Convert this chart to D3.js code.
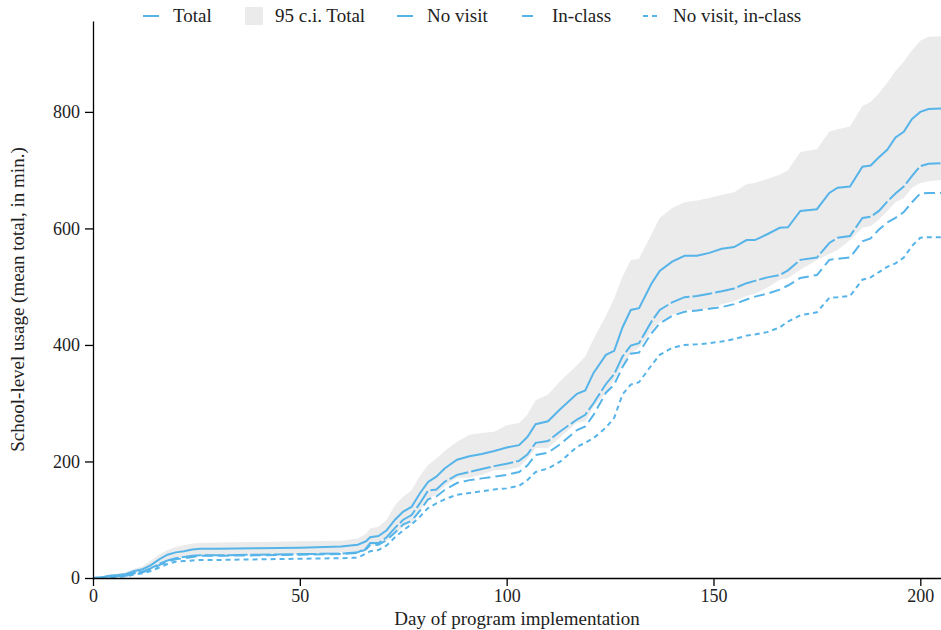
<!DOCTYPE html>
<meta charset="utf-8">
<head>
<script src="https://d3js.org/d3.v7.min.js"></script>
<style>
  body { margin: 0; background: #fff; }
  text { font-family: "Liberation Serif", serif; }
</style>
</head>
<body>
<svg id="chart" width="941" height="630"></svg>

<script>
// day of program implementation
var days = [0,2,4,6,8,10,12,14,16,18, 20,22,24,26,30,40,50,60,64,66,
  67,69,71,73,75,77,79,81,83,85, 88,91,94,97,100,103,105,107,110,113,
  117,119,121,124,126,128,130,132,135,137, 140,143,146,149,152,155,158,160,163,166,
  168,171,175,178,180,183,186,188,190,192, 194,196,198,200,202,205];

// mean total usage, minutes
var total = [0,1,4,5,7,12,15,22,32,40, 44,46,49,50,50,51,52,54,57,63,
  70,72,82,100,114,122,145,165,174,188, 203,209,213,218,224,228,242,264,269,290,
  316,322,352,383,390,430,460,463,505,527, 543,553,553,558,565,568,580,580,590,601,
  602,630,633,661,670,672,706,708,722,735, 756,766,788,800,805,806];

var ciHigh = [0,2,6,7,10,16,20,30,40,48, 53,56,59,60,61,62,63,64,68,76,
  85,88,100,125,140,150,175,194,205,218, 234,246,249,251,262,266,280,305,315,338,
  365,380,410,450,480,517,546,548,590,618, 635,645,648,652,658,662,676,678,685,692,
  700,731,736,766,770,775,810,817,832,850, 870,886,906,922,929,930];

var ciLow = [0,0,2,3,4,8,10,14,24,32, 35,36,39,40,39,40,41,44,46,50,
  55,56,64,75,88,94,115,136,143,158, 172,172,177,185,186,190,204,223,223,242,
  267,268,294,318,340,365,385,395,425,440, 452,460,460,463,470,475,484,488,498,512,
  515,529,546,556,563,580,601,604,615,630, 645,652,670,678,681,683];

var noVisit = [0,1,3,4,5,9,11,17,24,30, 34,36,38,39,39,40,41,42,44,51,
  60,60,70,86,100,108,128,150,152,165, 177,182,187,192,196,201,212,232,235,252,
  272,280,300,333,350,380,399,403,440,460, 473,482,484,488,492,497,506,510,516,520,
  528,546,550,575,584,587,618,620,630,646, 660,672,690,707,711,712];

var inClass = [0,1,2,3,4,8,10,15,22,28, 32,34,36,38,38,39,40,41,43,49,
  56,57,65,78,92,98,115,135,140,151, 163,168,171,174,177,182,193,211,215,230,
  254,260,280,318,332,362,385,387,420,437, 450,457,459,462,465,470,478,483,488,495,
  502,515,520,546,548,550,578,583,598,610, 618,628,645,660,661,661];

var noVisitInClass = [0,0,1,2,3,6,8,12,18,24, 28,29,30,31,31,32,33,34,35,42,
  46,48,56,70,82,92,105,120,128,135, 143,146,149,152,154,158,168,182,188,200,
  225,232,240,258,275,315,332,336,365,383, 395,400,401,403,406,410,416,418,422,430,
  440,451,456,481,482,484,512,516,525,534, 540,550,570,584,585,585];

var xTicks = [0, 50, 100, 150, 200];
var yTicks = [0, 200, 400, 600, 800];

var lineColor = "#56B4E9";
var ciColor = "#ebebeb";

var svg = d3.select("#chart");
var margin = {top: 21, right: 0, bottom: 52, left: 93};
var width = 941 - margin.left - margin.right;
var height = 630 - margin.top - margin.bottom;

var x = d3.scaleLinear().domain([0, 205]).range([0, width]);
var y = d3.scaleLinear().domain([0, 956]).range([height, 0]);

var g = svg.append("g")
  .attr("transform", "translate(" + margin.left + "," + margin.top + ")");

// confidence band
var area = d3.area()
  .x(function(d, i) { return x(days[i]); })
  .y0(function(d, i) { return y(ciLow[i]); })
  .y1(function(d, i) { return y(ciHigh[i]); });

g.append("path")
  .datum(days)
  .attr("fill", ciColor)
  .attr("d", area);

// lines
var series = [
  {values: total, dash: null},
  {values: noVisit, dash: "20,3"},
  {values: inClass, dash: "11,5"},
  {values: noVisitInClass, dash: "5,4"}
];

var line = d3.line()
  .x(function(d, i) { return x(days[i]); })
  .y(function(d) { return y(d); });

series.forEach(function(s) {
  g.append("path")
    .datum(s.values)
    .attr("fill", "none")
    .attr("stroke", lineColor)
    .attr("stroke-width", 2)
    .attr("stroke-dasharray", s.dash)
    .attr("d", line);
});

// axes
var xAxis = g.append("g")
  .attr("transform", "translate(0," + height + ")")
  .call(d3.axisBottom(x).tickValues(xTicks).tickSize(8).tickSizeOuter(0).tickPadding(3));

var yAxis = g.append("g")
  .call(d3.axisLeft(y).tickValues(yTicks).tickSize(8).tickSizeOuter(0).tickPadding(5));

[xAxis, yAxis].forEach(function(a) {
  a.select(".domain").attr("stroke", "#000").attr("stroke-width", 1.3);
  a.selectAll(".tick line").attr("stroke", "#000").attr("stroke-width", 1.3);
  a.selectAll(".tick text")
    .attr("fill", "#222")
    .style("font-family", "Liberation Serif, serif")
    .style("font-size", "18px");
});

// axis titles
svg.append("text")
  .attr("x", margin.left + width / 2)
  .attr("y", 625)
  .attr("text-anchor", "middle")
  .attr("fill", "#222")
  .style("font-size", "19px")
  .text("Day of program implementation");

svg.append("text")
  .attr("transform", "translate(24," + (margin.top + height / 2) + ") rotate(-90)")
  .attr("text-anchor", "middle")
  .attr("fill", "#222")
  .style("font-size", "19px")
  .text("School-level usage (mean total, in min.)");

// legend
var legendItems = [
  {label: "Total", type: "line", dash: null, x: 143, tx: 173},
  {label: "95 c.i. Total", type: "box", dash: null, x: 245, tx: 275},
  {label: "No visit", type: "line", dash: "20,3", x: 397, tx: 427},
  {label: "In-class", type: "line", dash: "11,5", x: 522, tx: 552},
  {label: "No visit, in-class", type: "line", dash: "5,4", x: 643, tx: 673}
];

var legend = svg.append("g");
legendItems.forEach(function(d) {
  if (d.type === "box") {
    legend.append("rect")
      .attr("x", d.x).attr("y", 7)
      .attr("width", 18).attr("height", 18)
      .attr("fill", ciColor);
  } else {
    legend.append("line")
      .attr("x1", d.x).attr("x2", d.x + 16)
      .attr("y1", 16).attr("y2", 16)
      .attr("stroke", lineColor)
      .attr("stroke-width", 2)
      .attr("stroke-dasharray", d.dash);
  }
  legend.append("text")
    .attr("x", d.tx)
    .attr("y", 22)
    .attr("fill", "#222")
    .style("font-size", "19px")
    .text(d.label);
});
</script>
</body>
